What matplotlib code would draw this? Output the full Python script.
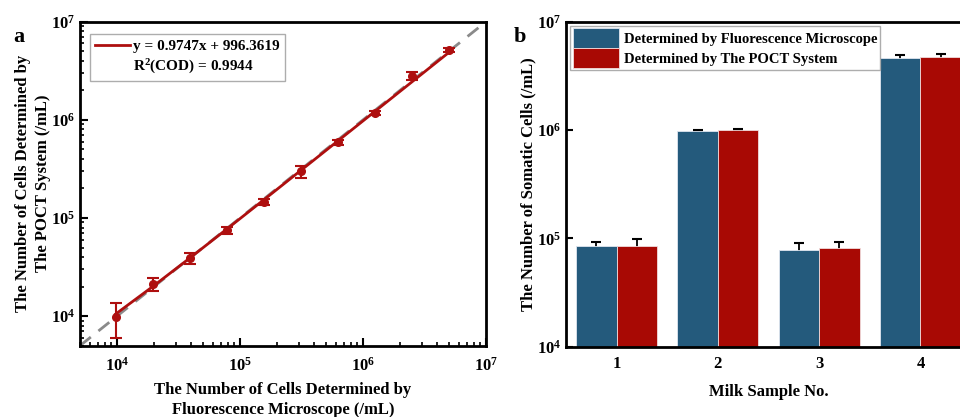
import numpy as np
import matplotlib
matplotlib.use('Agg')
import matplotlib.pyplot as plt
from matplotlib.lines import Line2D

#-------------------------------------------------------------------------
# data
#-------------------------------------------------------------------------

# panel a : POCT vs fluorescence microscope
micro_counts = [9766, 19531, 39063, 78125, 156250, 312500, 625000, 1250000, 2500000, 5000000]
poct_counts  = [9.8e3, 2.13e4, 3.88e4, 7.5e4, 1.46e5, 3.0e5, 5.9e5, 1.18e6, 2.82e6, 5.18e6]
poct_err     = [3.8e3, 3.2e3, 5.0e3, 6.0e3, 1.0e4, 4.2e4, 3.0e4, 6.0e4, 2.6e5, 2.5e5]
fit_slope     = 0.9747
fit_intercept = 996.3619
fit_r2        = 0.9944

# panel b : milk samples
samples     = [1, 2, 3, 4]
micro_milk  = [8.5e4, 9.8e5, 7.8e4, 4.64e6]
micro_err   = [7.0e3, 1.5e4, 1.2e4, 2.8e5]
poct_milk   = [8.55e4, 1.0e6, 8.07e4, 4.74e6]
poct_err_b  = [1.35e4, 2.0e4, 1.2e4, 2.6e5]

#-------------------------------------------------------------------------
# style
#-------------------------------------------------------------------------

plt.rcParams['font.family'] = ['Liberation Serif', 'DejaVu Serif']
plt.rcParams['font.weight'] = 'bold'
plt.rcParams['mathtext.fontset'] = 'custom'
plt.rcParams['mathtext.rm'] = 'Liberation Serif:bold'
plt.rcParams['mathtext.it'] = 'Liberation Serif:bold'
plt.rcParams['mathtext.bf'] = 'Liberation Serif:bold'

red   = '#ae0f0f'
bblue = '#245a7c'
bred  = '#a80904'

fig = plt.figure( figsize=(9.6, 4.17), dpi=100 )

#-------------------------------------------------------------------------
# panel a
#-------------------------------------------------------------------------

ax1 = fig.add_axes( [0.0833, 0.171, 0.423, 0.777] )
ax1.set_xscale( 'log' )
ax1.set_yscale( 'log' )
lim = (5e3, 1e7)
ax1.set_xlim( lim )
ax1.set_ylim( lim )

# y = x reference
ax1.plot( lim, lim, color='#8a8a8a', lw=2, ls=(0, (5, 3.5)), zorder=1 )

x = np.array( micro_counts )
fit_y = fit_slope * x + fit_intercept
ax1.plot( x, fit_y, color=red, lw=2, zorder=2 )
ax1.errorbar( micro_counts, poct_counts, yerr=poct_err, fmt='o', color=red,
              ms=5.5, capsize=4, elinewidth=1.5, capthick=1.5, zorder=3 )

for s in ax1.spines.values():
  s.set_linewidth( 2 )
ax1.tick_params( which='both', direction='in', top=False, right=False, labelsize=12 )
ax1.tick_params( which='major', length=6, width=1.5 )
ax1.tick_params( which='minor', length=3, width=1.2 )
ax1.tick_params( axis='x', pad=8 )

ax1.set_xlabel( 'The Number of Cells Determined by\nFluorescence Microscope (/mL)',
                fontsize=12, fontweight='bold', labelpad=5, linespacing=1.35 )
ax1.set_ylabel( 'The Number of Cells Determined by\nThe POCT System (/mL)',
                fontsize=12, fontweight='bold', labelpad=0, linespacing=1.35 )

h_fit   = Line2D( [], [], color=red, lw=2 )
h_blank = Line2D( [], [], color='none' )
leg1 = ax1.legend( [h_fit, h_blank],
                   ['y = %.4fx + %.4f' % (fit_slope, fit_intercept),
                    'R$^{2}$(COD) = %.4f' % fit_r2],
                   loc='upper left', fontsize=11, fancybox=False,
                   edgecolor='#999999', handlelength=2.3, handletextpad=0.2,
                   borderpad=0.35, labelspacing=0.3,
                   bbox_to_anchor=(0.005, 0.985) )
leg1.get_frame().set_linewidth( 1 )

fig.text( 0.014, 0.9, 'a', fontsize=16, fontweight='bold' )

#-------------------------------------------------------------------------
# panel b
#-------------------------------------------------------------------------

ax2 = fig.add_axes( [0.5896, 0.1686, 0.422, 0.7794] )
ax2.set_yscale( 'log' )
ax2.set_ylim( 1e4, 1e7 )
ax2.set_xlim( 0.5, 4.5 )

ind = np.array( samples )
w = 0.4
# error bars sit behind the bars so only the upper half shows
ax2.errorbar( ind - w/2, micro_milk, yerr=micro_err, fmt='none',
              ecolor='black', elinewidth=1.3, capsize=3.5, capthick=1.5, zorder=1 )
ax2.errorbar( ind + w/2, poct_milk, yerr=poct_err_b, fmt='none',
              ecolor='black', elinewidth=1.3, capsize=3.5, capthick=1.5, zorder=1 )
bar_m = ax2.bar( ind - w/2, micro_milk, w, color=bblue, edgecolor='#dfe6f0', lw=0.6, zorder=2 )
bar_p = ax2.bar( ind + w/2, poct_milk, w, color=bred, edgecolor='#f0dcdc', lw=0.6, zorder=2 )

for s in ax2.spines.values():
  s.set_linewidth( 2 )
ax2.set_xticks( samples )
ax2.minorticks_off()
ax2.tick_params( which='major', direction='in', length=5, width=1.5, labelsize=12,
                 top=False, right=False )
ax2.tick_params( axis='x', pad=7 )

ax2.set_xlabel( 'Milk Sample No.', fontsize=12, fontweight='bold', labelpad=8 )
ax2.set_ylabel( 'The Number of Somatic Cells (/mL)', fontsize=12, fontweight='bold', labelpad=0 )

leg2 = ax2.legend( [bar_m, bar_p],
                   ['Determined by Fluorescence Microscope', 'Determined by The POCT System'],
                   loc='upper left', fontsize=10.5, fancybox=False, edgecolor='#999999',
                   handlelength=3.2, handleheight=1.7, handletextpad=0.35,
                   borderpad=0.15, labelspacing=0.0, borderaxespad=0.3 )
leg2.get_frame().set_linewidth( 1 )

fig.text( 0.535, 0.9, 'b', fontsize=16, fontweight='bold' )

fig.savefig( 'out.png', dpi=100 )
